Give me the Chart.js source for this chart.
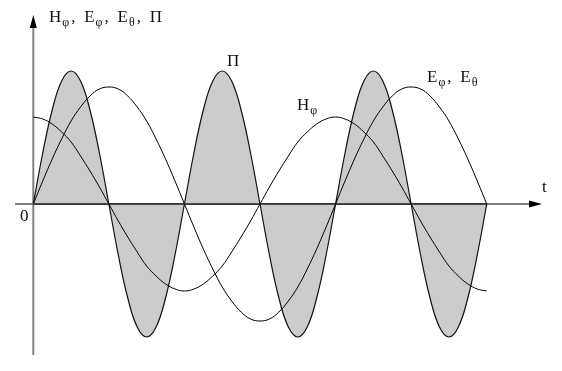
<!DOCTYPE html>
<html>
<head>
<meta charset="utf-8">
<script src="https://cdn.jsdelivr.net/npm/chart.js@4/dist/chart.umd.min.js"></script>
<style>
  html, body { margin: 0; padding: 0; background: #fff; }
  #wrap { width: 562px; height: 371px; }
</style>
</head>
<body>
<div id="wrap"><canvas id="waves" width="562" height="371"></canvas></div>
<script>
// time steps (1/16 of a half period each)
const steps = [0, 1, 2, 3, 4, 5, 6, 7, 8, 9, 10, 11, 12, 13, 14, 15, 16,
  17, 18, 19, 20, 21, 22, 23, 24, 25, 26, 27, 28, 29, 30, 31, 32,
  33, 34, 35, 36, 37, 38, 39, 40, 41, 42, 43, 44, 45, 46, 47, 48];

// Π (power flow), shaded
const powerValues = [0, 51, 94, 123, 133, 123, 94, 51, 0, -51, -94, -123, -133, -123, -94, -51,
  0, 51, 94, 123, 133, 123, 94, 51, 0, -51, -94, -123, -133, -123, -94, -51,
  0, 51, 94, 123, 133, 123, 94, 51, 0, -51, -94, -123, -133, -123, -94, -51, 0];

// Eφ, Eθ
const eValues = [0, 23, 45, 65, 83, 97, 108, 115, 117, 115, 108, 97, 83, 65, 45, 23, 0,
  -23, -45, -65, -83, -97, -108, -115, -117, -115, -108, -97, -83, -65, -45, -23, 0,
  23, 45, 65, 83, 97, 108, 115, 117, 115, 108, 97, 83, 65, 45, 23, 0];

// Hφ
const hValues = [87, 85, 80, 72, 62, 48, 33, 17, 0, -17, -33, -48, -62, -72, -80, -85, -87,
  -85, -80, -72, -62, -48, -33, -17, 0, 17, 33, 48, 62, 72, 80, 85, 87,
  85, 80, 72, 62, 48, 33, 17, 0, -17, -33, -48, -62, -72, -80, -85, -87];

// text: [main, subscript]
const yAxisTitle = [['H', 'φ'], ['E', 'φ'], ['E', 'θ'], ['Π', '']];
const xAxisTitle = 't';
const originLabel = '0';
const powerLabel = [['Π', '']];
const hLabel = [['H', 'φ']];
const eLabel = [['E', 'φ'], ['E', 'θ']];

function toPoints(values) {
  return values.map((v, i) => ({ x: steps[i], y: v }));
}

const MAIN_FONT = "17px 'Liberation Serif', serif";
const SUB_FONT = "12px 'Liberation Serif', serif";

function drawParts(ctx, parts, x, y, commaGap) {
  ctx.fillStyle = '#111';
  ctx.textBaseline = 'alphabetic';
  ctx.textAlign = 'left';
  parts.forEach((part, i) => {
    ctx.font = MAIN_FONT;
    ctx.fillText(part[0], x, y);
    x += ctx.measureText(part[0]).width + 1;
    if (part[1]) {
      ctx.font = SUB_FONT;
      ctx.fillText(part[1], x, y + 4);
      x += ctx.measureText(part[1]).width;
    }
    if (i < parts.length - 1) {
      ctx.font = MAIN_FONT;
      ctx.fillText(',', x + 2, y);
      x += commaGap;
    }
  });
}

function arrow(ctx, tipX, tipY, dir) {
  ctx.beginPath();
  if (dir === 'up') {
    ctx.moveTo(tipX, tipY);
    ctx.lineTo(tipX - 3.5, tipY + 13);
    ctx.lineTo(tipX + 3.5, tipY + 13);
  } else {
    ctx.moveTo(tipX, tipY);
    ctx.lineTo(tipX - 13, tipY - 3.5);
    ctx.lineTo(tipX - 13, tipY + 3.5);
  }
  ctx.closePath();
  ctx.fillStyle = '#000';
  ctx.fill();
}

const axesPlugin = {
  id: 'axesPlugin',
  beforeDatasetsDraw(chart) {
    const { ctx, scales } = chart;
    const x0 = scales.x.getPixelForValue(0);
    const y0 = scales.y.getPixelForValue(0);
    ctx.save();
    ctx.strokeStyle = '#808080';
    ctx.lineWidth = 2;
    ctx.beginPath();
    ctx.moveTo(x0, 355);
    ctx.lineTo(x0, 24);
    ctx.moveTo(15, y0);
    ctx.lineTo(532, y0);
    ctx.stroke();
    arrow(ctx, x0, 15, 'up');
    arrow(ctx, 542, y0, 'right');
    ctx.restore();
  },
  afterDatasetsDraw(chart) {
    const { ctx, scales } = chart;
    const y0 = scales.y.getPixelForValue(0);
    ctx.save();
    ctx.strokeStyle = '#222';
    ctx.lineWidth = 1.5;
    ctx.beginPath();
    ctx.moveTo(scales.x.getPixelForValue(steps[0]), y0);
    ctx.lineTo(scales.x.getPixelForValue(steps[steps.length - 1]), y0);
    ctx.stroke();

    drawParts(ctx, yAxisTitle, 49, 22, 15);
    drawParts(ctx, powerLabel, 227, 66, 0);
    drawParts(ctx, hLabel, 297, 110, 0);
    drawParts(ctx, eLabel, 427, 82, 15);
    ctx.font = MAIN_FONT;
    ctx.fillStyle = '#111';
    ctx.fillText(xAxisTitle, 542, 192);
    ctx.fillText(originLabel, 20, 221);
    ctx.restore();
  }
};

new Chart(document.getElementById('waves'), {
  type: 'line',
  data: {
    datasets: [
      {
        label: 'Hφ',
        data: toPoints(hValues),
        borderColor: '#000',
        borderWidth: 1,
        pointRadius: 0,
        tension: 0.4,
        fill: false
      },
      {
        label: 'Eφ, Eθ',
        data: toPoints(eValues),
        borderColor: '#000',
        borderWidth: 1,
        pointRadius: 0,
        tension: 0.4,
        fill: false
      },
      {
        label: 'Π',
        data: toPoints(powerValues),
        borderColor: '#111',
        borderWidth: 1.2,
        backgroundColor: '#cccccc',
        pointRadius: 0,
        tension: 0.4,
        fill: 'origin'
      }
    ]
  },
  options: {
    responsive: false,
    animation: false,
    devicePixelRatio: 1,
    layout: { padding: 0 },
    plugins: {
      legend: { display: false },
      tooltip: { enabled: false },
      title: { display: false }
    },
    scales: {
      x: { type: 'linear', display: false, min: -3.525, max: 55.97 },
      y: { type: 'linear', display: false, min: -167, max: 204 }
    }
  },
  plugins: [axesPlugin]
});
</script>
</body>
</html>
